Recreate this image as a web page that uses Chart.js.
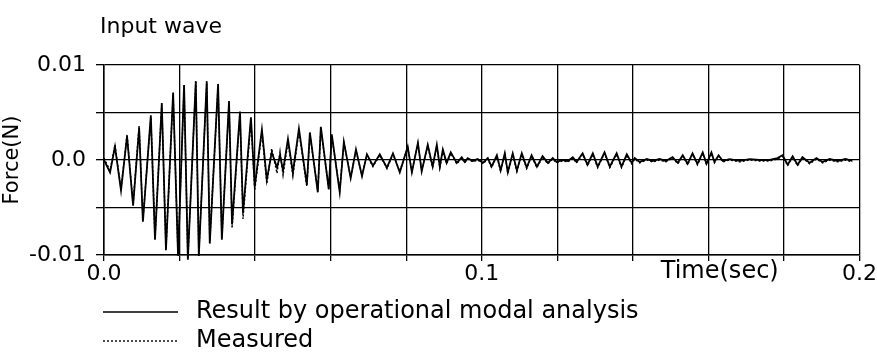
<!DOCTYPE html>
<html>
<head>
<meta charset="utf-8">
<script src="https://cdn.jsdelivr.net/npm/chart.js@4/dist/chart.umd.min.js"></script>
<style>
  html, body { margin: 0; padding: 0; background: #fff; }
  #wrap { width: 877px; height: 356px; }
</style>
</head>
<body>
<div id="wrap"><canvas id="waveChart" width="877" height="356"></canvas></div>
<script>
// time of each turning point (sec)
const timeSec = [0.0000, 0.0016, 0.0029, 0.0045, 0.0061, 0.0077, 0.0093, 0.0103, 0.0124, 0.0135,
  0.0153, 0.0164, 0.0183, 0.0196, 0.0212, 0.0222, 0.0243, 0.0251, 0.0272, 0.0280,
  0.0302, 0.0312, 0.0331, 0.0339, 0.0360, 0.0368, 0.0389, 0.0399, 0.0418, 0.0431,
  0.0444, 0.0458, 0.0466, 0.0474, 0.0487, 0.0500, 0.0516, 0.0537, 0.0545, 0.0566,
  0.0574, 0.0595, 0.0603, 0.0624, 0.0635, 0.0653, 0.0667, 0.0683, 0.0696, 0.0712,
  0.0730, 0.0749, 0.0765, 0.0783, 0.0804, 0.0815, 0.0831, 0.0841, 0.0857, 0.0870,
  0.0881, 0.0889, 0.0897, 0.0907, 0.0918, 0.0934, 0.0947, 0.0955, 0.0963, 0.0976,
  0.0989, 0.1003, 0.1016, 0.1026, 0.1040, 0.1050, 0.1061, 0.1069, 0.1082, 0.1093,
  0.1106, 0.1119, 0.1132, 0.1146, 0.1161, 0.1175, 0.1188, 0.1198, 0.1214, 0.1228,
  0.1241, 0.1251, 0.1267, 0.1280, 0.1294, 0.1307, 0.1325, 0.1339, 0.1357, 0.1370,
  0.1384, 0.1397, 0.1405, 0.1418, 0.1437, 0.1452, 0.1471, 0.1487, 0.1505, 0.1519,
  0.1532, 0.1545, 0.1558, 0.1571, 0.1585, 0.1595, 0.1608, 0.1616, 0.1627, 0.1638,
  0.1656, 0.1683, 0.1709, 0.1735, 0.1762, 0.1783, 0.1796, 0.1810, 0.1823, 0.1836,
  0.1849, 0.1868, 0.1886, 0.1902, 0.1921, 0.1942, 0.1963, 0.1981];

// Result by operational modal analysis (N)
const forceResult = [0, -0.0013, 0.0014, -0.0032, 0.0025, -0.0048, 0.0034, -0.0065, 0.0047, -0.0084,
  0.0060, -0.0095, 0.0071, -0.0101, 0.0079, -0.0105, 0.0083, -0.0101, 0.0083, -0.0088,
  0.0080, -0.0084, 0.0062, -0.0068, 0.0051, -0.0056, 0.0045, -0.0028, 0.0032, -0.0021,
  0.0008, -0.0008, 0.0005, -0.0011, 0.0022, -0.0013, 0.0033, -0.0026, 0.0029, -0.0034,
  0.0035, -0.0031, 0.0027, -0.0034, 0.0019, -0.0019, 0.0011, -0.0017, 0.0006, -0.0006,
  0.0006, -0.0008, 0.0007, -0.0013, 0.0014, -0.0013, 0.0018, -0.0012, 0.0016, -0.0007,
  0.0016, -0.0007, 0.0011, -0.0003, 0.0008, -0.0003, 0.0003, -0.0002, 0.0002, -0.0001,
  0.0001, -0.0003, 0.0002, -0.0007, 0.0005, -0.0011, 0.0007, -0.0013, 0.0007, -0.0011,
  0.0007, -0.0008, 0.0005, -0.0007, 0.0004, -0.0003, 0.0002, -0.0002, 0, -0.0001,
  0.0003, -0.0002, 0.0007, -0.0005, 0.0007, -0.0007, 0.0008, -0.0007, 0.0007, -0.0007,
  0.0006, -0.0003, 0.0002, -0.0002, 0.0001, -0.0001, 0.0001, -0.0001, 0.0003, -0.0003,
  0.0005, -0.0004, 0.0007, -0.0004, 0.0008, -0.0004, 0.0008, -0.0002, 0.0005, -0.0001,
  0.0001, -0.0001, 0.0001, 0, 0, 0.0002, 0.0005, -0.0005, 0.0004, -0.0005,
  0.0003, -0.0003, 0.0002, -0.0002, 0.0001, -0.0001, 0.0001, -0.0001];

// Measured (N)
const forceMeasured = [0.0002, -0.0011, 0.0016, -0.0030, 0.0027, -0.0046, 0.0036, -0.0063, 0.0045, -0.0082,
  0.0058, -0.0093, 0.0069, -0.0100, 0.0078, -0.0103, 0.0082, -0.0099, 0.0081, -0.0086,
  0.0078, -0.0082, 0.0060, -0.0072, 0.0048, -0.0062, 0.0042, -0.0032, 0.0030, -0.0025,
  0.0012, -0.0014, 0.0009, -0.0016, 0.0019, -0.0017, 0.0030, -0.0028, 0.0027, -0.0032,
  0.0033, -0.0030, 0.0025, -0.0032, 0.0018, -0.0018, 0.0010, -0.0016, 0.0005, -0.0007,
  0.0005, -0.0009, 0.0006, -0.0012, 0.0013, -0.0012, 0.0017, -0.0011, 0.0015, -0.0008,
  0.0015, -0.0008, 0.0010, -0.0004, 0.0007, -0.0004, 0.0002, -0.0003, 0.0001, -0.0002,
  0.0000, -0.0004, 0.0001, -0.0008, 0.0004, -0.0012, 0.0006, -0.0014, 0.0006, -0.0012,
  0.0006, -0.0009, 0.0004, -0.0008, 0.0003, -0.0004, 0.0001, -0.0003, -0.0001, -0.0002,
  0.0002, -0.0003, 0.0006, -0.0006, 0.0006, -0.0008, 0.0007, -0.0008, 0.0006, -0.0008,
  0.0005, -0.0004, 0.0001, -0.0003, 0.0000, -0.0002, 0.0000, -0.0002, 0.0002, -0.0004,
  0.0004, -0.0005, 0.0006, -0.0005, 0.0007, -0.0005, 0.0007, -0.0003, 0.0004, -0.0002,
  0.0000, -0.0002, 0.0000, -0.0001, -0.0001, 0.0001, 0.0004, -0.0006, 0.0003, -0.0006,
  0.0002, -0.0004, 0.0001, -0.0003, 0.0000, -0.0002, 0.0000, -0.0002];

const xTickLabels = ['0.0', '0.1', '0.2'];   // at 0, 0.1, 0.2
const yTickLabels = ['-0.01', '0.0', '0.01']; // at -0.01, 0, 0.01

const FONT = '"DejaVu Sans", sans-serif';

// title, x label and legend drawn by hand
const extraText = {
  id: 'extraText',
  afterDraw(chart) {
    const ctx = chart.ctx;
    const xs = chart.scales.x;
    ctx.save();
    ctx.fillStyle = '#000';
    ctx.font = '22px ' + FONT;
    ctx.textBaseline = 'middle';
    ctx.textAlign = 'left';
    ctx.fillText('Input wave', 100, 27);

    ctx.font = '24px ' + FONT;
    ctx.textAlign = 'center';
    ctx.fillText('Time(sec)', xs.getPixelForValue(0.163), 272);

    // legend
    ctx.textAlign = 'left';
    ctx.strokeStyle = '#000';
    ctx.lineWidth = 1.4;
    ctx.beginPath();
    ctx.moveTo(103, 312); ctx.lineTo(178, 312);
    ctx.stroke();
    ctx.fillText('Result by operational modal analysis', 196, 312);

    ctx.setLineDash([2, 2]);
    ctx.beginPath();
    ctx.moveTo(103, 341); ctx.lineTo(178, 341);
    ctx.stroke();
    ctx.setLineDash([]);
    ctx.fillText('Measured', 196, 341);
    ctx.restore();
  }
};

function toPoints(tArr, fArr) {
  return tArr.map((t, i) => ({ x: t, y: fArr[i] }));
}

const near = (a, b) => Math.abs(a - b) < 1e-9;

const ctx = document.getElementById('waveChart').getContext('2d');
new Chart(ctx, {
  type: 'scatter',
  data: {
    datasets: [
      {
        label: 'Measured',
        data: toPoints(timeSec, forceMeasured),
        showLine: true,
        borderColor: '#000',
        borderWidth: 1.4,
        borderDash: [2, 2],
        pointRadius: 0,
        clip: 6,
      },
      {
        label: 'Result by operational modal analysis',
        data: toPoints(timeSec, forceResult),
        showLine: true,
        borderColor: '#000',
        borderWidth: 1.8,
        pointRadius: 0,
        clip: 6,
      },
    ]
  },
  options: {
    responsive: false,
    animation: false,
    layout: { padding: { top: 65, right: 17, bottom: 0, left: 0 } },
    plugins: {
      legend: { display: false },
      tooltip: { enabled: false },
    },
    scales: {
      x: {
        type: 'linear',
        min: 0,
        max: 0.2,
        border: { color: '#000', width: 1.5 },
        grid: { color: '#000', lineWidth: 1.3, drawTicks: true, tickLength: 6, tickColor: '#000' },
        ticks: {
          stepSize: 0.02,
          autoSkip: false,
          maxRotation: 0,
          padding: 0,
          color: '#000',
          font: { family: FONT, size: 22 },
          callback: (v) => {
            if (near(v, 0)) return xTickLabels[0];
            if (near(v, 0.1)) return xTickLabels[1];
            if (near(v, 0.2)) return xTickLabels[2];
            return '';
          }
        },
        afterFit: (scale) => { scale.height = 101; },
      },
      y: {
        min: -0.01,
        max: 0.01,
        border: { color: '#000', width: 1.5 },
        grid: { color: '#000', lineWidth: 1.3, drawTicks: true, tickLength: 8, tickColor: '#000' },
        title: {
          display: true,
          text: 'Force(N)',
          color: '#000',
          font: { family: FONT, size: 21 },
          padding: { top: 0, bottom: 0 },
        },
        ticks: {
          stepSize: 0.005,
          autoSkip: false,
          padding: 10,
          color: '#000',
          font: { family: FONT, size: 22 },
          callback: (v) => {
            if (near(v, -0.01)) return yTickLabels[0];
            if (near(v, 0)) return yTickLabels[1];
            if (near(v, 0.01)) return yTickLabels[2];
            return '';
          }
        },
        afterFit: (scale) => { scale.width = 104; },
      }
    }
  },
  plugins: [extraText]
});
</script>
</body>
</html>
